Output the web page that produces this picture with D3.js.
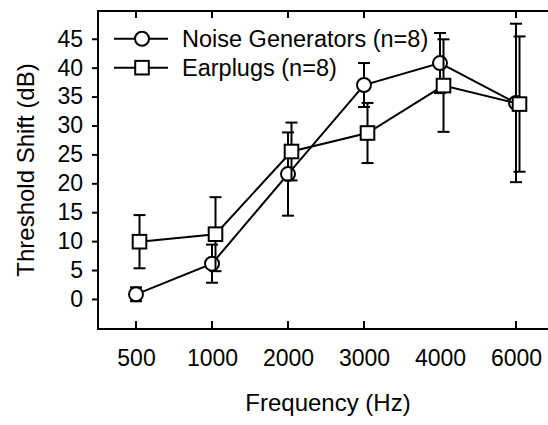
<!DOCTYPE html>
<html>
<head>
<meta charset="utf-8">
<script src="https://cdn.jsdelivr.net/npm/d3@7"></script>
<style>
  body { margin: 0; background: #fff; }
  svg { display: block; font-family: "Liberation Sans", Arial, sans-serif; }
</style>
</head>
<body>
<div id="chart"></div>
<script>
const frequencies = ['500', '1000', '2000', '3000', '4000', '6000'];
const noiseMean = [0.8, 6.1, 21.6, 37.0, 40.8, 33.9];
const noiseErr = [1.2, 3.3, 7.2, 3.8, 5.2, 13.7];
const plugMean = [9.9, 11.2, 25.5, 28.7, 36.9, 33.7];
const plugErr = [4.6, 6.4, 5.0, 5.2, 8.0, 11.7];
const yTicks = [0, 5, 10, 15, 20, 25, 30, 35, 40, 45];
const noTickAt = ['4000'];

const width = 548;
const height = 425;
const plotLeft = 98, plotRight = 554, plotTop = 11, plotBottom = 329;

const svg = d3.select('#chart')
  .append('svg')
  .attr('width', width)
  .attr('height', height);

const x = d3.scalePoint().domain(frequencies).range([plotLeft, plotRight]).padding(0.5);
const y = d3.scaleLinear().domain([-5.2, 49.8]).range([plotBottom, plotTop]);

// frame: left, top, bottom (right side is cut off by the page)
svg.append('path')
  .attr('d', `M${plotRight},${plotTop}H${plotLeft}V${plotBottom}H${plotRight}`)
  .attr('fill', 'none')
  .attr('stroke', '#000')
  .attr('stroke-width', 2);

const tickFont = 23;

// y axis
const yAxis = svg.append('g')
  .attr('transform', `translate(${plotLeft},0)`)
  .call(d3.axisLeft(y).tickValues(yTicks).tickSize(6).tickSizeOuter(0).tickPadding(9));
yAxis.select('.domain').remove();
yAxis.selectAll('line').attr('stroke-width', 2);
yAxis.selectAll('text').attr('font-size', tickFont).attr('fill', '#000');

// right axis ticks (axis line itself is outside the window)
const yRight = svg.append('g')
  .attr('transform', `translate(${plotRight},0)`)
  .call(d3.axisLeft(y).tickValues(yTicks).tickSize(-7).tickSizeOuter(0).tickFormat(''));
yRight.select('.domain').attr('stroke-width', 2);
yRight.selectAll('line').attr('stroke-width', 2);

// x axis: ticks inward
const xAxis = svg.append('g')
  .attr('transform', `translate(0,${plotBottom})`)
  .call(d3.axisBottom(x).tickSize(0).tickPadding(21));
xAxis.select('.domain').remove();
xAxis.selectAll('text').attr('font-size', tickFont).attr('fill', '#000');

const tickX = frequencies.filter(f => !noTickAt.includes(f));
svg.append('g').selectAll('line')
  .data(tickX)
  .join('line')
  .attr('x1', d => x(d)).attr('x2', d => x(d))
  .attr('y1', plotBottom).attr('y2', plotBottom - 8)
  .attr('stroke', '#000').attr('stroke-width', 2);
svg.append('g').selectAll('line')
  .data(tickX)
  .join('line')
  .attr('x1', d => x(d)).attr('x2', d => x(d))
  .attr('y1', plotTop).attr('y2', plotTop + 7)
  .attr('stroke', '#000').attr('stroke-width', 2);

// axis titles
svg.append('text')
  .attr('x', (x('500') + x('6000')) / 2 + 2)
  .attr('y', 411)
  .attr('text-anchor', 'middle')
  .attr('font-size', 24)
  .text('Frequency (Hz)');

svg.append('text')
  .attr('transform', `translate(34,${(plotTop + plotBottom) / 2}) rotate(-90)`)
  .attr('text-anchor', 'middle')
  .attr('font-size', 24)
  .text('Threshold Shift (dB)');

const series = [
  { name: 'Noise Generators (n=8)', mean: noiseMean, err: noiseErr, shape: 'circle', dx: 0 },
  { name: 'Earplugs (n=8)', mean: plugMean, err: plugErr, shape: 'square', dx: 3.5 }
];

const line = d3.line().x(d => d.x).y(d => y(d.v));

function drawMarker(g, shape) {
  if (shape === 'circle') {
    g.append('circle').attr('r', 7);
  } else {
    g.append('rect').attr('x', -6.8).attr('y', -6.8).attr('width', 13.6).attr('height', 13.6);
  }
  g.selectAll('circle, rect')
    .attr('fill', '#fff')
    .attr('stroke', '#000')
    .attr('stroke-width', 2);
}

series.forEach(s => {
  const pts = frequencies.map((f, i) => ({ x: x(f) + s.dx, v: s.mean[i], e: s.err[i] }));
  const g = svg.append('g');

  const eb = g.append('g').selectAll('g')
    .data(pts)
    .join('g')
    .attr('stroke', '#000')
    .attr('stroke-width', 2);
  eb.append('line')
    .attr('x1', d => d.x).attr('x2', d => d.x)
    .attr('y1', d => y(d.v - d.e)).attr('y2', d => y(d.v + d.e));
  eb.append('line')
    .attr('x1', d => d.x - 6).attr('x2', d => d.x + 6)
    .attr('y1', d => y(d.v + d.e)).attr('y2', d => y(d.v + d.e));
  eb.append('line')
    .attr('x1', d => d.x - 6).attr('x2', d => d.x + 6)
    .attr('y1', d => y(d.v - d.e)).attr('y2', d => y(d.v - d.e));

  g.append('path')
    .datum(pts)
    .attr('d', line)
    .attr('fill', 'none')
    .attr('stroke', '#000')
    .attr('stroke-width', 2);

  g.append('g').selectAll('g')
    .data(pts)
    .join('g')
    .attr('transform', d => `translate(${d.x},${y(d.v)})`)
    .each(function() { drawMarker(d3.select(this), s.shape); });
});

// legend
const legend = svg.append('g');
series.forEach((s, i) => {
  const ly = y(yTicks[yTicks.length - 1 - i]);
  const row = legend.append('g').attr('transform', `translate(0,${ly})`);
  row.append('line')
    .attr('x1', 114).attr('x2', 168)
    .attr('stroke', '#000').attr('stroke-width', 2);
  const m = row.append('g').attr('transform', 'translate(142,0)');
  drawMarker(m, s.shape);
  row.append('text')
    .attr('x', 182)
    .attr('dy', '0.35em')
    .attr('font-size', 23.5)
    .text(s.name);
});
</script>
</body>
</html>
